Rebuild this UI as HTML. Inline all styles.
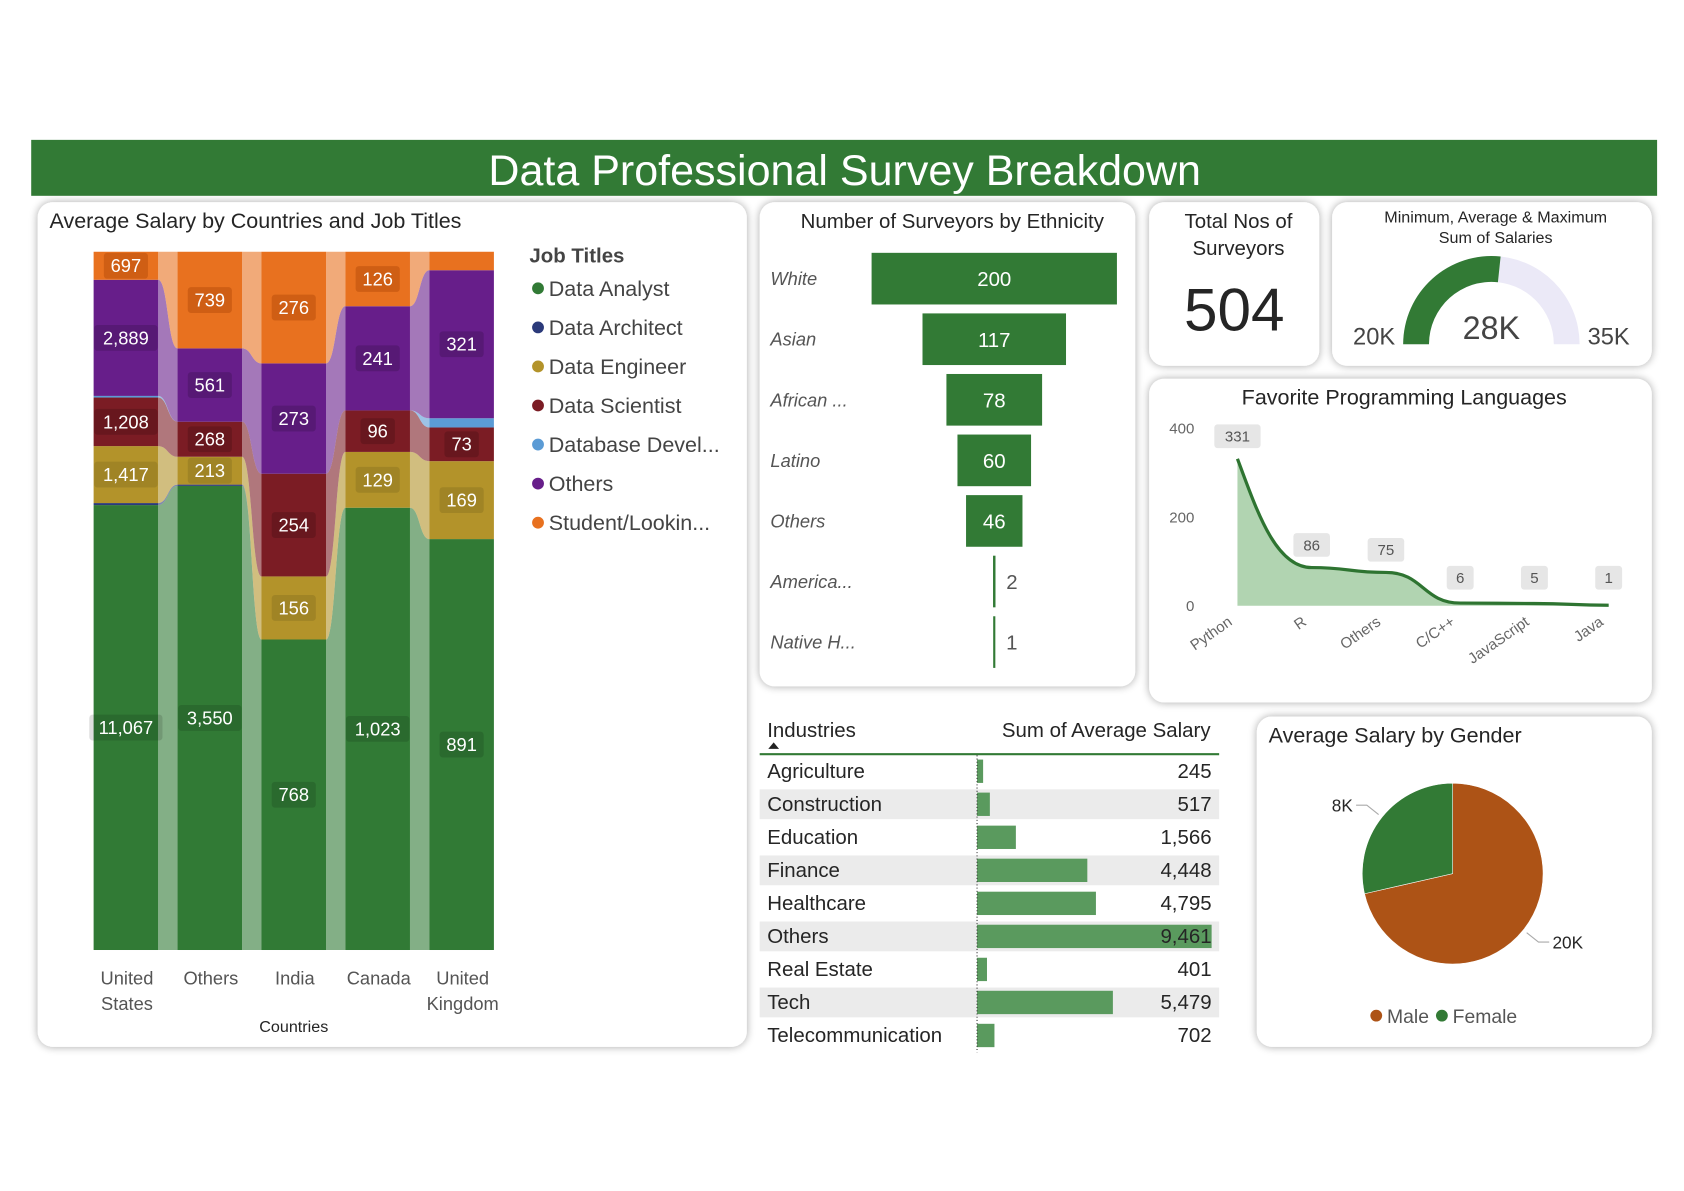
<!DOCTYPE html>
<html><head><meta charset="utf-8"><style>
html,body{margin:0;padding:0;background:#fff;width:1684px;height:1191px;overflow:hidden}
svg{display:block}
text{font-family:"Liberation Sans",sans-serif}
</style></head><body>
<svg id="dash" width="1684" height="1191" viewBox="0 0 1565 1107" preserveAspectRatio="none" xmlns="http://www.w3.org/2000/svg">
<defs>
<filter id="sh" x="-10%" y="-10%" width="120%" height="120%"><feGaussianBlur in="SourceAlpha" stdDeviation="4"/><feComponentTransfer><feFuncA type="linear" slope="0.35"/></feComponentTransfer><feMerge><feMergeNode/><feMergeNode in="SourceGraphic"/></feMerge></filter>
</defs>
<rect x="29" y="130" width="1511" height="52" fill="#327a35"/>
<text x="785" y="172" text-anchor="middle" font-size="40" fill="#fff">Data Professional Survey Breakdown</text>

<rect x="35" y="188" width="659" height="785" rx="14" fill="#fff" filter="url(#sh)"/>
<rect x="706" y="188" width="349" height="450" rx="14" fill="#fff" filter="url(#sh)"/>
<rect x="1068" y="188" width="158" height="152" rx="14" fill="#fff" filter="url(#sh)"/>
<rect x="1238" y="188" width="297" height="152" rx="14" fill="#fff" filter="url(#sh)"/>
<rect x="1068" y="352" width="467" height="301" rx="14" fill="#fff" filter="url(#sh)"/>
<rect x="1168" y="666" width="367" height="307" rx="14" fill="#fff" filter="url(#sh)"/>

<text x="46" y="212" font-size="20" fill="#252525">Average Salary by Countries and Job Titles</text>
<text x="885" y="212" text-anchor="middle" font-size="19" fill="#252525">Number of Surveyors by Ethnicity</text>
<text x="1151" y="212" text-anchor="middle" font-size="19" fill="#252525">Total Nos of</text>
<text x="1151" y="237" text-anchor="middle" font-size="19" fill="#252525">Surveyors</text>
<text x="1147" y="307" text-anchor="middle" font-size="56" fill="#252525">504</text>
<text x="1390" y="207" text-anchor="middle" font-size="15" fill="#252525">Minimum, Average &amp; Maximum</text>
<text x="1390" y="226" text-anchor="middle" font-size="15" fill="#252525">Sum of Salaries</text>
<text x="1305" y="376" text-anchor="middle" font-size="20" fill="#252525">Favorite Programming Languages</text>
<text x="1179" y="690" font-size="20" fill="#252525">Average Salary by Gender</text>
<g id="g"></g>
</svg>
<script>
// ---------- Ribbon chart data ----------
const countries = ['United States','Others','India','Canada','United Kingdom'];
const jobTitles = ['Data Analyst','Data Architect','Data Engineer','Data Scientist','Database Devel...','Others','Student/Lookin...'];
const dataAnalyst = [11067,3550,768,1023,891];
const dataArchitect = [50,10,0,0,0];
const dataEngineer = [1417,213,156,129,169];
const dataScientist = [1208,268,254,96,73];
const databaseDev = [40,0,0,0,20];
const othersJob = [2889,561,273,241,321];
const student = [697,739,276,126,40];
// ---------- Ethnicity ----------
const ethnicities = ['White','Asian','African ...','Latino','Others','America...','Native H...'];
const ethnicityCounts = [200,117,78,60,46,2,1];
// ---------- Languages ----------
const languages = ['Python','R','Others','C/C++','JavaScript','Java'];
const languageCounts = [331,86,75,6,5,1];
const langTicks = [0,200,400];
// ---------- Industries ----------
const industries = ['Agriculture','Construction','Education','Finance','Healthcare','Others','Real Estate','Tech','Telecommunication'];
const industrySalary = [245,517,1566,4448,4795,9461,401,5479,702];
// ---------- Gauge ----------
const gaugeMin = 20, gaugeAvg = 28, gaugeMax = 35;
// ---------- Gender ----------
const genders = ['Male','Female'];
const genderSalary = [20,8];

const NS='http://www.w3.org/2000/svg';
const G=document.getElementById('g');
function mk(tag,attrs,parent,txt){const e=document.createElementNS(NS,tag);for(const k in attrs)e.setAttribute(k,attrs[k]);if(txt!==undefined)e.textContent=txt;(parent||G).appendChild(e);return e;}
const fmt=v=>v.toLocaleString('en-US');

// ===== Ribbon chart =====
const series=[dataAnalyst,dataArchitect,dataEngineer,dataScientist,databaseDev,othersJob,student];
const colors=['#317a35','#2b3a7a','#b3932a','#7b1c24','#5b9bd5','#671e8a','#e8711f'];
const labelBg=['rgba(0,0,0,0.13)','rgba(0,0,0,0.15)','rgba(0,0,0,0.1)','rgba(0,0,0,0.15)','rgba(0,0,0,0.1)','rgba(0,0,0,0.15)','rgba(160,60,0,0.35)'];
const pTop=234,pBot=883,pH=pBot-pTop,colW=60,colStep=78,colX0=87;
const colX=i=>colX0+i*colStep;
const stacks=countries.map((c,i)=>{const tot=series.reduce((a,s)=>a+s[i],0);let acc=0;return series.map(s=>{const y1=pBot-acc/tot*pH;acc+=s[i];const y0=pBot-acc/tot*pH;return [y0,y1];});});
// ribbons
for(let i=0;i<countries.length-1;i++){
  series.forEach((s,k)=>{
    const a=stacks[i][k],b=stacks[i+1][k];
    if(a[1]-a[0]<0.3&&b[1]-b[0]<0.3)return;
    const x0=colX(i)+colW,x1=colX(i+1),m=(x0+x1)/2;
    const p=mk('path',{d:`M${x0},${a[0]} C${m},${a[0]} ${m},${b[0]} ${x1},${b[0]} L${x1},${b[1]} C${m},${b[1]} ${m},${a[1]} ${x0},${a[1]} Z`,fill:colors[k],'fill-opacity':0.6});
    
    
  });
}
// columns
countries.forEach((c,i)=>{
  series.forEach((s,k)=>{
    const [y0,y1]=stacks[i][k];
    if(y1-y0<=0)return;
    const r=mk('rect',{x:colX(i),y:y0,width:colW,height:y1-y0,fill:colors[k]});
    
    
    if(y1-y0>=20){
      const t=fmt(s[i]);const w=t.length*9+14;const cy=(y0+y1)/2;const cx=colX(i)+colW/2;
      mk('rect',{x:cx-w/2,y:cy-12,width:w,height:24,rx:3,fill:labelBg[k]});
      const tx=mk('text',{x:cx,y:cy+6,'text-anchor':'middle','font-size':17,fill:'#fff'},G,t);
      
      
    }
  });
  const parts=c.split(' ');
  const lines=parts.length>1?[parts[0],parts.slice(1).join(' ')]:[c];
  lines.forEach((l,j)=>{
    const t=mk('text',{x:colX(i)+colW/2+1,y:915+j*24,'text-anchor':'middle','font-size':17,fill:'#555'},G,l);
    
    
  });
});
{const t=mk('text',{x:273,y:959,'text-anchor':'middle','font-size':15,fill:'#252525'},G,'Countries');

}
{const t=mk('text',{x:492,y:244,'font-size':19,'font-weight':'bold',fill:'#444'},G,'Job Titles');

}
jobTitles.forEach((j,k)=>{
  const y=268+k*36.3;
  const c=mk('circle',{cx:500,cy:y,r:5.5,fill:colors[k]});
  
  
  const t=mk('text',{x:510,y:y+7,'font-size':20,fill:'#444'},G,j);
  
  
});

// ===== Funnel =====
const fMax=Math.max(...ethnicityCounts),fW=228,fCx=924;
ethnicities.forEach((e,i)=>{
  const cy=259+i*56.3;const w=Math.max(ethnicityCounts[i]/fMax*fW,2);
  const r=mk('rect',{x:fCx-w/2,y:cy-24,width:w,height:48,fill:'#327a35'});
  
  
  const l=mk('text',{x:716,y:cy+6,'font-size':17,'font-style':'italic',fill:'#555'},G,e);
  
  
  const inside=w>40;
  const v=mk('text',{x:inside?fCx:fCx+w/2+10,y:cy+7,'text-anchor':inside?'middle':'start','font-size':19,fill:inside?'#fff':'#555'},G,ethnicityCounts[i]);
  
  
});

// ===== Gauge =====
{const cx=1386,cy=320,R=82,r=58;
const pt=(t,rad)=>[cx+rad*Math.cos(Math.PI*(1-t)),cy-rad*Math.sin(Math.PI*(1-t))];
const arc=(t0,t1)=>{const a=pt(t0,R),b=pt(t1,R),c=pt(t1,r),d=pt(t0,r);return `M${a} A${R},${R} 0 0 1 ${b} L${c} A${r},${r} 0 0 0 ${d} Z`;};
const bg=mk('path',{d:arc(0,1),fill:'#ebe9f7'});


const fg=mk('path',{d:arc(0,(gaugeAvg-gaugeMin)/(gaugeMax-gaugeMin)),fill:'#327a35'});


const t1=mk('text',{x:1277,y:320,'text-anchor':'middle','font-size':22,fill:'#444'},G,gaugeMin+'K');


const t2=mk('text',{x:1495,y:320,'text-anchor':'middle','font-size':22,fill:'#444'},G,gaugeMax+'K');


const t3=mk('text',{x:1386,y:315,'text-anchor':'middle','font-size':30,fill:'#444'},G,gaugeAvg+'K');

}

// ===== Languages area chart =====
{const x0=1150,dx=69,yS=v=>563-v/400*165;
langTicks.forEach(t=>{
  const l=mk('text',{x:1110,y:yS(t)+5,'text-anchor':'end','font-size':14,fill:'#666'},G,t);
  
  
});
const pts=languageCounts.map((v,i)=>[x0+i*dx,yS(v)]);
let d=`M${pts[0][0]},${pts[0][1]}`;
for(let i=1;i<pts.length;i++){const a=pts[i-1],b=pts[i],m=(b[0]-a[0])/2;
  const ca= i===1 ? [a[0]+m*0.5,a[1]+(b[1]-a[1])*0.45] : [a[0]+m,a[1]];
  d+=` C${ca[0]},${ca[1]} ${b[0]-m},${b[1]} ${b[0]},${b[1]}`;}
const area=mk('path',{d:d+` L${pts[pts.length-1][0]},${yS(0)} L${pts[0][0]},${yS(0)} Z`,fill:'#a9cfa9','fill-opacity':0.9});


const line=mk('path',{d:d,fill:'none',stroke:'#2e7431','stroke-width':3});


languages.forEach((l,i)=>{
  const [px,py]=pts[i];const t=String(languageCounts[i]);const w=t.length*9+16;
  const ly=Math.min(py-10,548);
  const b=mk('rect',{x:px-w/2,y:ly-22,width:w,height:22,rx:3,fill:'#e6e6e6'});
  
  
  const tv=mk('text',{x:px,y:ly-6,'text-anchor':'middle','font-size':14,fill:'#555'},G,t);
  
  
  const xl=mk('text',{x:px-4,y:580,'text-anchor':'end','font-size':14,fill:'#666',transform:`rotate(-35 ${px-4} 580)`},G,l);
  
  
});}

// ===== Industries table =====
{const hx=mk('text',{x:713,y:685,'font-size':19,fill:'#252525'},G,'Industries');


const hs=mk('text',{x:1125,y:685,'text-anchor':'end','font-size':19,fill:'#252525'},G,'Sum of Average Salary');


const tri=mk('path',{d:'M714,696 L719,690 L724,696 Z',fill:'#222'});


const hl=mk('line',{x1:706,y1:701,x2:1133,y2:701,stroke:'#327a35','stroke-width':2});


const mx=Math.max(...industrySalary),bx=908,bw=218,rh=30.7;
industries.forEach((n,i)=>{
  const y=702+i*rh;
  if(i%2===1){const bg=mk('rect',{x:706,y:y+1,width:427,height:rh-3,fill:'#ebebeb'});
    
    }
  const b=mk('rect',{x:bx,y:y+4,width:industrySalary[i]/mx*bw,height:rh-9,fill:'#5a9a5e'});
  
  
  const t=mk('text',{x:713,y:y+21,'font-size':19,fill:'#252525'},G,n);
  
  
  const v=mk('text',{x:1126,y:y+21,'text-anchor':'end','font-size':19,fill:'#252525'},G,fmt(industrySalary[i]));
  
  
});
const dl=mk('line',{x1:bx,y1:702,x2:bx,y2:702+9*rh,stroke:'#333','stroke-width':1,'stroke-dasharray':'1,2'});

}

// ===== Pie =====
{const cx=1350,cy=812,R=84,tot=genderSalary.reduce((a,b)=>a+b,0),pc=['#ad5316','#327a35'];
let a0=0;const P=a=>[cx+R*Math.sin(a),cy-R*Math.cos(a)];
genderSalary.forEach((v,i)=>{
  const a1=a0+v/tot*2*Math.PI;const p0=P(a0),p1=P(a1);
  const s=mk('path',{d:`M${cx},${cy} L${p0} A${R},${R} 0 ${a1-a0>Math.PI?1:0} 1 ${p1} Z`,fill:pc[i],stroke:'#fff','stroke-width':0.5});
  
  
  const am=(a0+a1)/2;const e=[cx+(R+4)*Math.sin(am),cy-(R+4)*Math.cos(am)];const e2=[cx+(R+18)*Math.sin(am),cy-(R+18)*Math.cos(am)];
  const left=Math.sin(am)<0;const e3=[e2[0]+(left?-10:10),e2[1]];
  const ll=mk('polyline',{points:`${e} ${e2} ${e3}`,fill:'none',stroke:'#aaa','stroke-width':1});
  
  
  const t=mk('text',{x:e3[0]+(left?-3:3),y:e3[1]+6,'text-anchor':left?'end':'start','font-size':16,fill:'#252525'},G,v+'K');
  
  
  a0=a1;
});
let lx=1279;
genders.forEach((g,i)=>{
  const c=mk('circle',{cx:lx,cy:944,r:5.5,fill:pc[i]});
  
  
  const t=mk('text',{x:lx+10,y:951,'font-size':18,fill:'#555'},G,g);
  
  
  lx+=g.length*10+21;
});}
</script>
</body></html>
